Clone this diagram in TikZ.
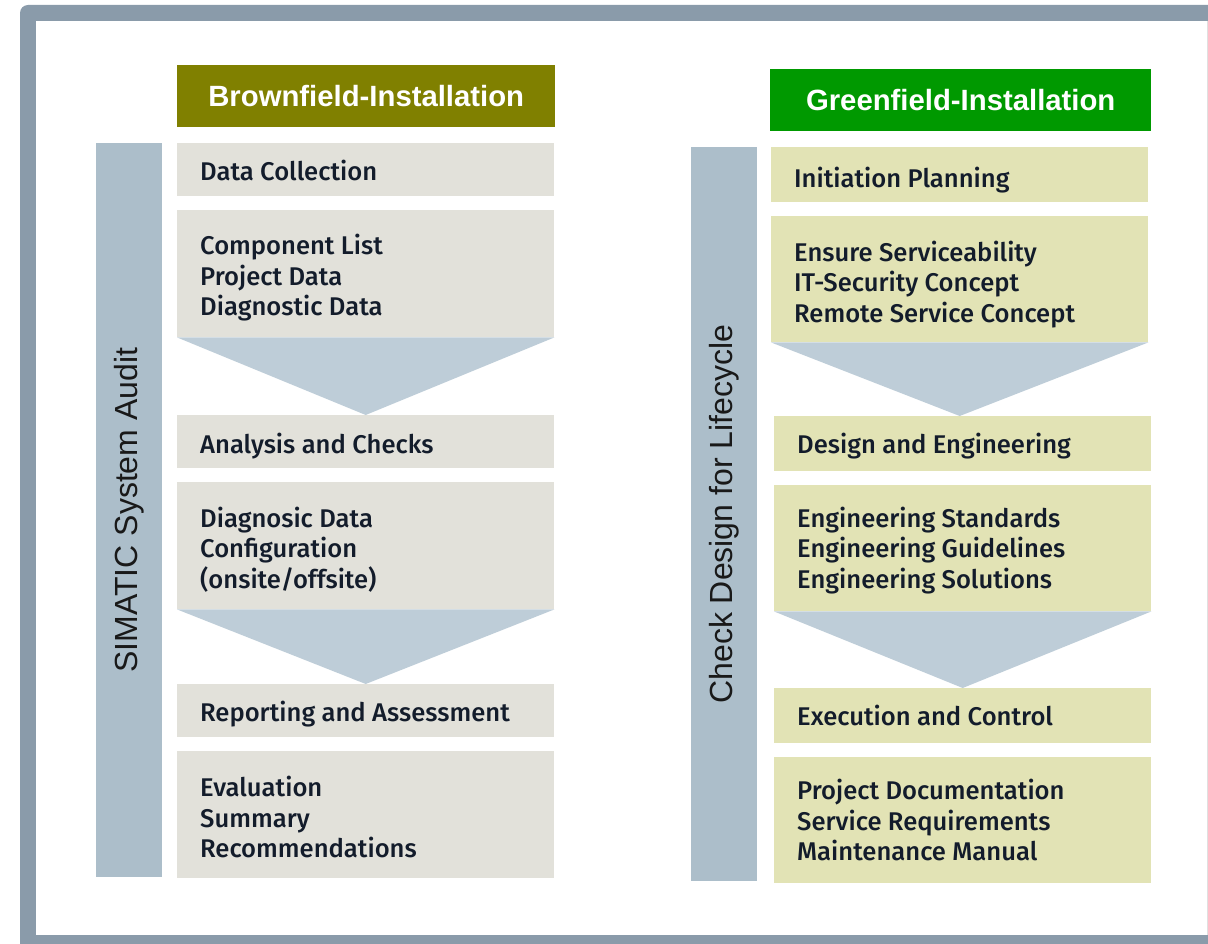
\documentclass[tikz,border=0pt]{standalone}
\usepackage{fontspec}
\setmainfont{Liberation Sans}
\newfontfamily\boxfont{Fira Sans Medium}
\usepackage{tikz}
\usetikzlibrary{shapes,positioning,backgrounds}

\definecolor{framegray}{HTML}{8A9BAA}
\definecolor{bargray}{HTML}{ACBECA}
\definecolor{chevblue}{HTML}{BECDD8}
\definecolor{brownbox}{HTML}{E2E1DA}
\definecolor{greenbox}{HTML}{E2E3B5}
\definecolor{olivehead}{HTML}{808000}
\definecolor{greenhead}{HTML}{009900}
\definecolor{boxtext}{HTML}{131C2B}

\tikzset{
    headbox/.style={rectangle, anchor=north west, inner sep=0pt, text=white,
        font=\bfseries\fontsize{29.3}{34}\selectfont},
    sidebar/.style={rectangle, anchor=north west, fill=bargray, inner sep=0pt,
        minimum width=66pt, minimum height=734pt},
    sidetext/.style={rotate=90, text=black!90, font=\fontsize{32}{36}\selectfont},
    stepbox/.style={rectangle, anchor=north west, inner sep=0pt, minimum width=377pt},
    steptext/.style={anchor=west, inner sep=0pt, xshift=23pt, align=left, text=boxtext,
        font=\boxfont\fontsize{25.6}{30.5}\selectfont},
    brownstep/.style={stepbox, fill=brownbox},
    greenstep/.style={stepbox, fill=greenbox},
    chevron/.style={fill=chevblue}
}

\begin{document}
\begin{tikzpicture}[x=1pt, y=-1pt]
        \useasboundingbox (0,0) rectangle (1208,944);
        % frame
        \fill [framegray, rounded corners=8pt] (20,5) rectangle (1240,975);
        \fill [white] (36,21) rectangle (1207,935);
        \draw [black!12] (1207.5,21) -- (1207.5,935);

        % brownfield column
        \node [headbox, fill=olivehead, minimum width=378pt, minimum height=62pt] (brownhead) at (177,65) {Brownfield-Installation};
        \node [sidebar] (auditbar) at (96,143) {};
        \node [sidetext] (audittext) at (auditbar.center) {SIMATIC System Audit};
        \node [brownstep, minimum height=53pt] (collect) at (177,143) {};
        \node [brownstep, minimum height=127pt] (collectlist) at (177,210) {};
        \node [brownstep, minimum height=53pt] (analysis) at (177,415) {};
        \node [brownstep, minimum height=127pt] (analysislist) at (177,482) {};
        \node [brownstep, minimum height=53pt] (report) at (177,684) {};
        \node [brownstep, minimum height=127pt] (reportlist) at (177,751) {};
        \fill [chevron] (collectlist.south west) -- (collectlist.south east) -- (collectlist.south |- analysis.north) -- cycle;
        \fill [chevron] (analysislist.south west) -- (analysislist.south east) -- (analysislist.south |- report.north) -- cycle;
        \node [steptext, yshift=-1pt] (collecttext) at (collect.west) {Data Collection};
        \node [steptext, yshift=-4pt] (collectlisttext) at (collectlist.west) {Component List\\Project Data\\Diagnostic Data};
        \node [steptext, yshift=-4pt] (analysistext) at (analysis.west) {Analysis and Checks};
        \node [steptext, yshift=-4pt] (analysislisttext) at (analysislist.west) {Diagnosic Data\\Configuration\\(onsite/offsite)};
        \node [steptext, yshift=-3pt] (reporttext) at (report.west) {Reporting and Assessment};
        \node [steptext, yshift=-2.5pt] (reportlisttext) at (reportlist.west) {Evaluation\\Summary\\Recommendations};

        % greenfield column
        \node [headbox, fill=greenhead, minimum width=381pt, minimum height=62pt] (greenhead) at (770,69) {Greenfield-Installation};
        \node [sidebar] (lifebar) at (691,147) {};
        \node [sidetext] (lifetext) at (lifebar.center) {Check Design for Lifecycle};
        \node [greenstep, minimum height=55pt] (init) at (771,147) {};
        \node [greenstep, minimum height=126pt] (initlist) at (771,216) {};
        \node [greenstep, minimum height=55pt] (design) at (774,416) {};
        \node [greenstep, minimum height=126pt] (designlist) at (774,485) {};
        \node [greenstep, minimum height=55pt] (exec) at (774,688) {};
        \node [greenstep, minimum height=126pt] (execlist) at (774,757) {};
        \fill [chevron] (initlist.south west) -- (initlist.south east) -- (initlist.south |- design.north) -- cycle;
        \fill [chevron] (designlist.south west) -- (designlist.south east) -- (designlist.south |- exec.north) -- cycle;
        \node [steptext, yshift=-5pt] (inittext) at (init.west) {Initiation Planning};
        \node [steptext, yshift=-5pt] (initlisttext) at (initlist.west) {Ensure Serviceability\\IT-Security Concept\\Remote Service Concept};
        \node [steptext, yshift=-2pt] (designtext) at (design.west) {Design and Engineering};
        \node [steptext, yshift=-2pt] (designlisttext) at (designlist.west) {Engineering Standards\\Engineering Guidelines\\Engineering Solutions};
        \node [steptext] (exectext) at (exec.west) {Execution and Control};
        \node [steptext] (execlisttext) at (execlist.west) {Project Documentation\\Service Requirements\\Maintenance Manual};
    \end{tikzpicture}
\end{document}
